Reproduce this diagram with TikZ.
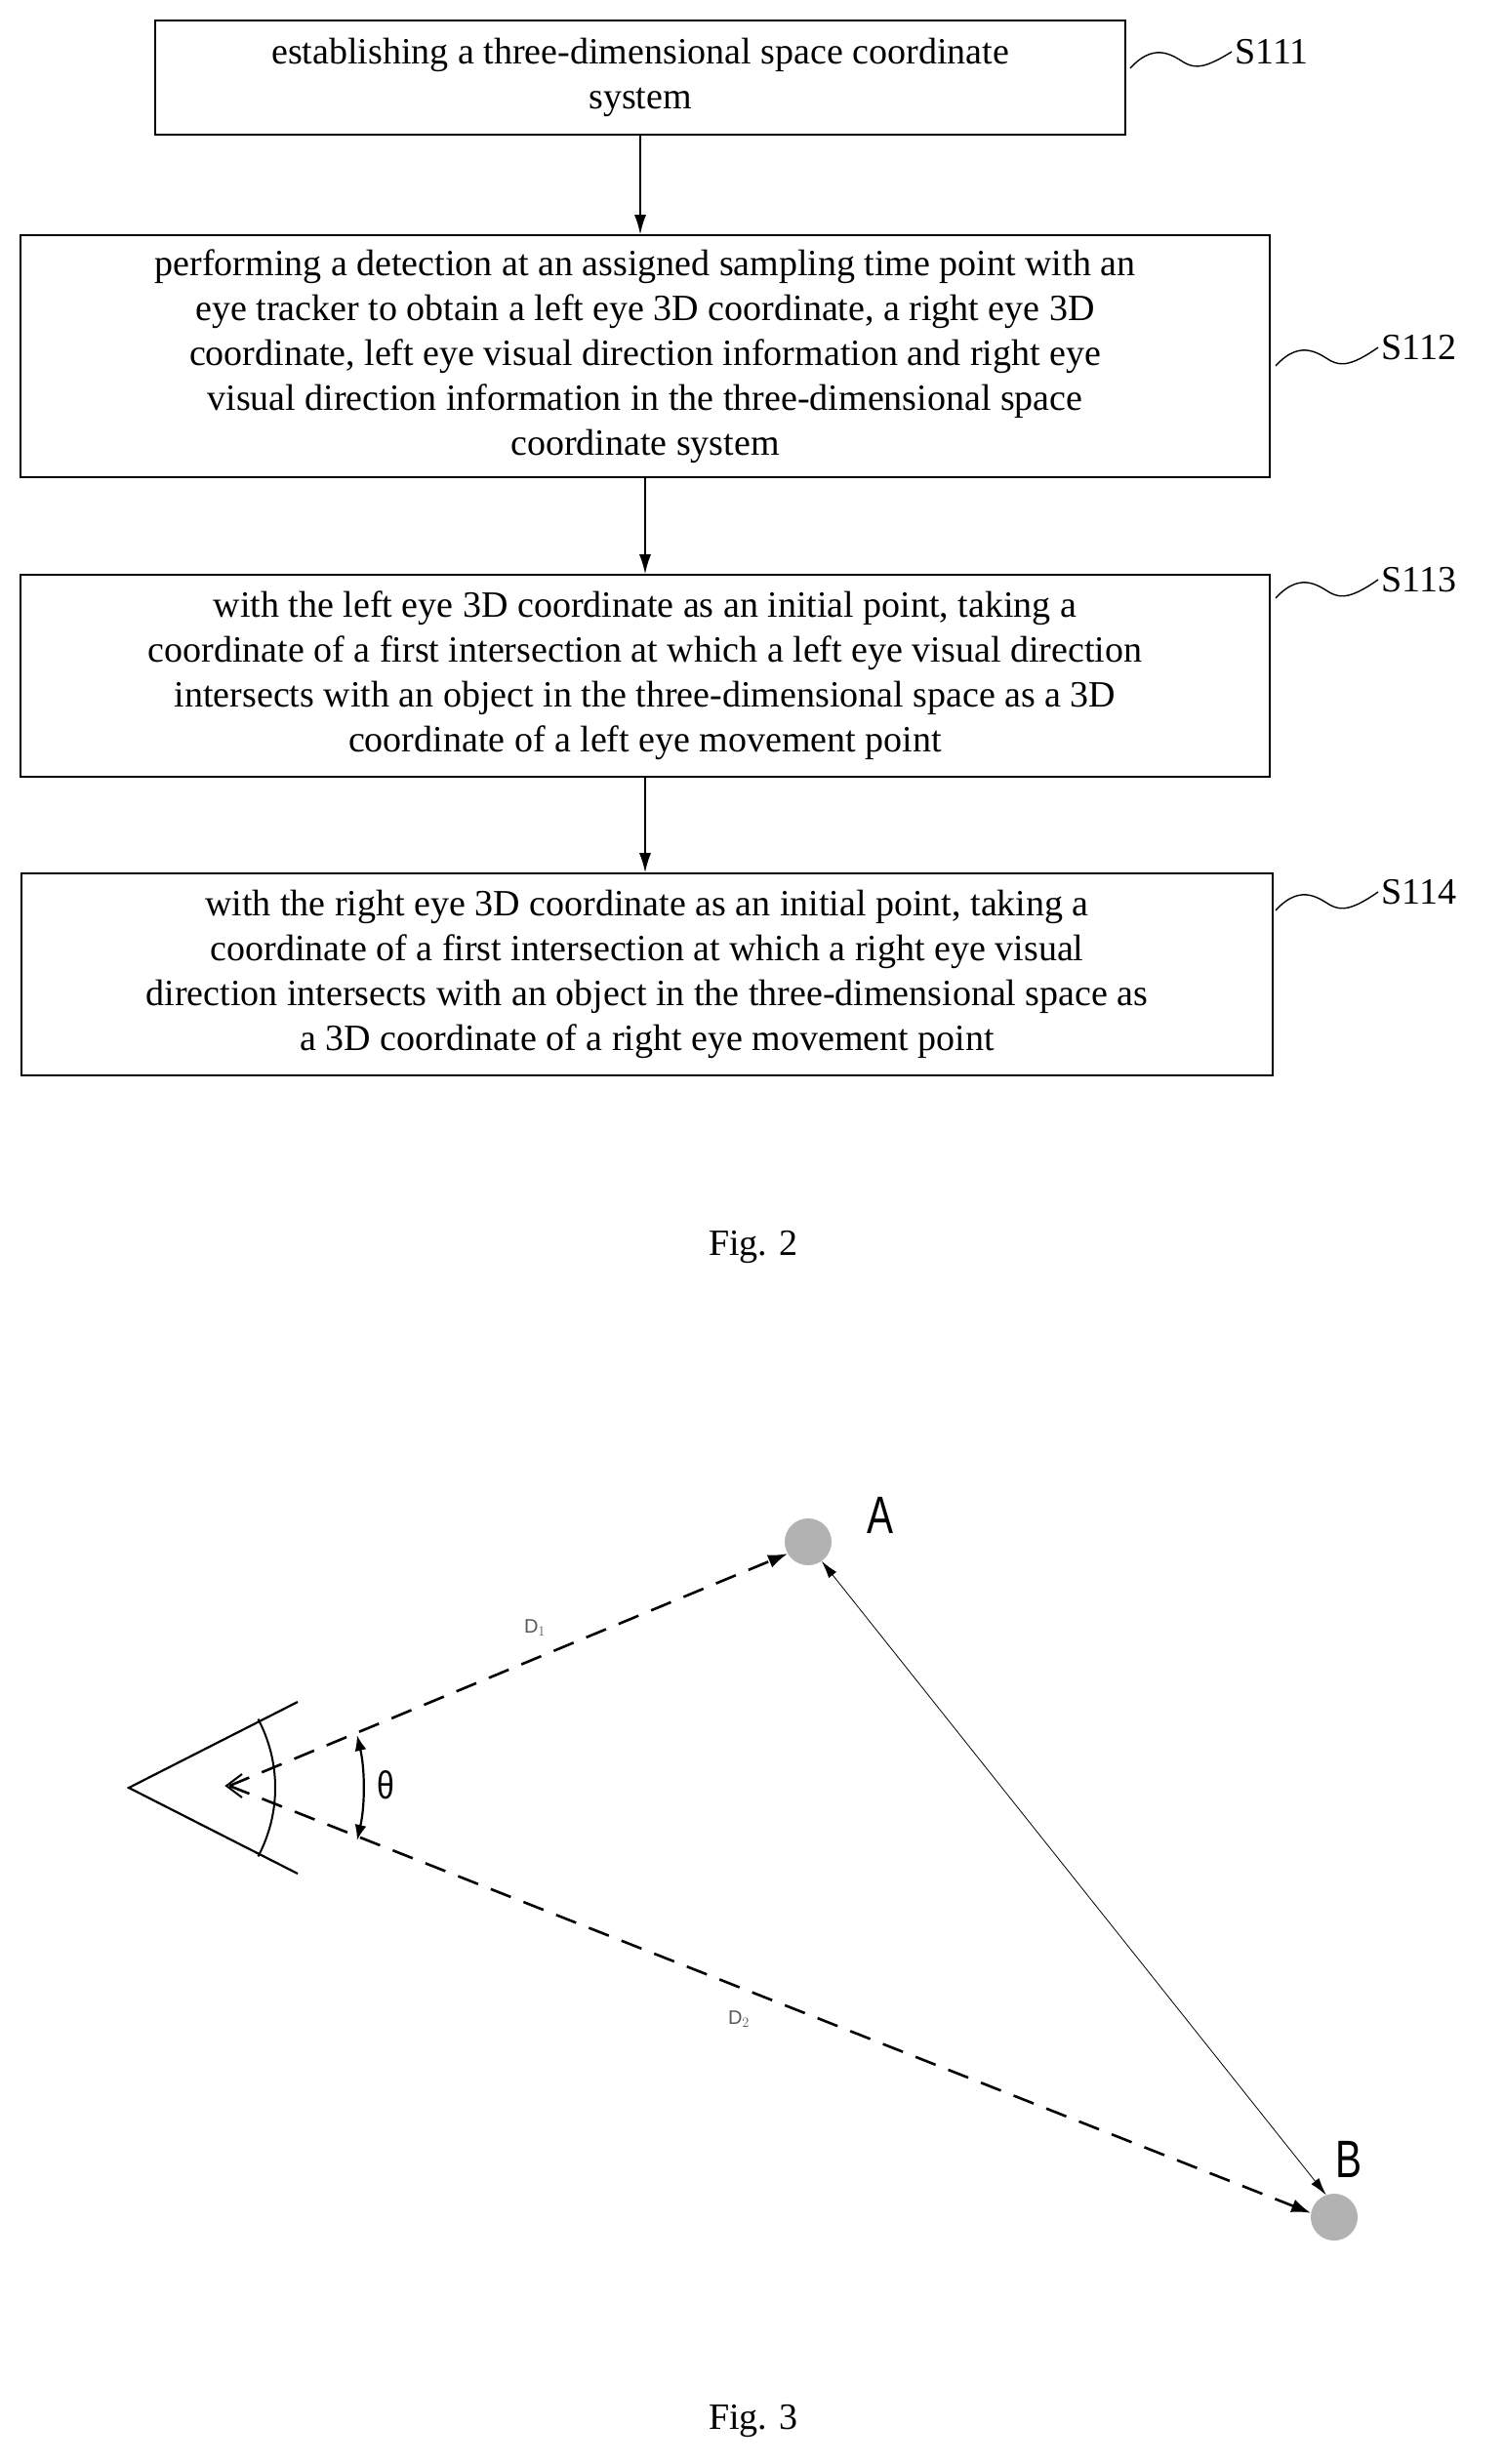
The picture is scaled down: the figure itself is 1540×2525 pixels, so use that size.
\documentclass[tikz,border=0pt]{standalone}
\usepackage{fontspec}
\setmainfont{Liberation Serif}
\setsansfont{Liberation Sans}
\usetikzlibrary{arrows.meta,calc}
\begin{document}
\begin{tikzpicture}[x=1pt,y=-1pt,
  box/.style={draw,line width=1.6pt,inner sep=0pt,align=center,font=\fontsize{38}{46}\selectfont},
  lab/.style={font=\fontsize{38}{46}\selectfont,anchor=west},
  squig/.style={line width=1.4pt},
  flow/.style={-{Latex[length=20pt,width=12pt]},line width=1.6pt},
  sightline/.style={dash pattern=on 22pt off 14pt,line width=2.6pt},
  dot/.style={circle,fill=gray!60,minimum size=48pt,inner sep=0pt}]
\useasboundingbox (0,0) rectangle (1540,2525);
\node[box,minimum width=994pt,minimum height=117pt] (b1) at (656,79.5) {establishing a three-dimensional space coordinate\\system};
\node[box,minimum width=1280pt,minimum height=248pt] (b2) at (661,365) {performing a detection at an assigned sampling time point with an\\eye tracker to obtain a left eye 3D coordinate, a right eye 3D\\coordinate, left eye visual direction information and right eye\\visual direction information in the three-dimensional space\\coordinate system};
\node[box,minimum width=1280pt,minimum height=207pt] (b3) at (661,692.5) {with the left eye 3D coordinate as an initial point, taking a\\coordinate of a first intersection at which a left eye visual direction\\intersects with an object in the three-dimensional space as a 3D\\coordinate of a left eye movement point};
\node[box,minimum width=1282pt,minimum height=207pt] (b4) at (663,998.5) {with the right eye 3D coordinate as an initial point, taking a\\coordinate of a first intersection at which a right eye visual\\direction intersects with an object in the three-dimensional space as\\a 3D coordinate of a right eye movement point};
\draw[flow] (b1.south) -- (b1.south |- b2.north);
\draw[flow] (b2.south) -- (b2.south |- b3.north);
\draw[flow] (b3.south) -- (b3.south |- b4.north);
\node[lab] (s1) at (1262,53) {S111};
\node[lab] (s2) at (1412,356) {S112};
\node[lab] (s3) at (1412,594) {S113};
\node[lab] (s4) at (1412,914) {S114};
\draw[squig] (1158,70) .. controls (1185,40) and (1205,60) .. (1215,65) .. controls (1225,70) and (1235,70) .. (s1.west);
\draw[squig] (1307,375) .. controls (1334,345) and (1354,365) .. (1364,370) .. controls (1374,375) and (1385,375) .. (s2.west);
\draw[squig] (1307,613) .. controls (1334,583) and (1354,603) .. (1364,608) .. controls (1374,613) and (1385,613) .. (s3.west);
\draw[squig] (1307,933) .. controls (1334,903) and (1354,923) .. (1364,928) .. controls (1374,933) and (1385,933) .. (s4.west);
\node[font=\fontsize{38}{46}\selectfont] (f2) at (772,1278) {Fig. 2};
% Fig 3
\coordinate (V) at (132,1832);
\coordinate (e1) at (305,1744);
\coordinate (e2) at (305,1920);
\coordinate (O) at (235,1830);
\draw[line width=2.2pt] (e1) -- (V) -- (e2);
\draw[line width=2pt] ($(V)+(-28:150)$) arc[start angle=-28,end angle=28,radius=150];
\node[dot] (A) at (828,1580) {};
\node[dot] (B) at (1367,2272) {};
\node[font=\sffamily\fontsize{54}{60}\selectfont,xscale=0.75] (la) at (902,1553) {A};
\node[font=\sffamily\fontsize{54}{60}\selectfont,xscale=0.75] (lb) at (1382,2213) {B};
\draw[sightline,-{Latex[length=20pt,width=14pt]}] (O) -- (A.210);
\draw[sightline,-{Latex[length=20pt,width=14pt]}] (O) -- (B.170);
\draw[line width=2pt] (248,1818) -- (232,1830) -- (248,1842);
\draw[line width=0.8pt,{Latex[length=18pt,width=10pt]}-{Latex[length=18pt,width=10pt]}] (A.-55) -- (B.110);
\draw[line width=2.2pt,{Latex[length=16pt,width=12pt]}-{Latex[length=16pt,width=12pt]}] ($(V)+(-13:240)$) arc[start angle=-13,end angle=13,radius=240];
\node[font=\sffamily\fontsize{40}{44}\selectfont,xscale=0.8] (th) at (395,1829) {θ};
\node[font=\sffamily\fontsize{20}{24}\selectfont,gray!70!black] (d1) at (548,1668) {D$_1$};
\node[font=\sffamily\fontsize{20}{24}\selectfont,gray!70!black] (d2) at (757,2069) {D$_2$};
\node[font=\fontsize{38}{46}\selectfont] (f3) at (772,2481) {Fig. 3};
\end{tikzpicture}
\end{document}
